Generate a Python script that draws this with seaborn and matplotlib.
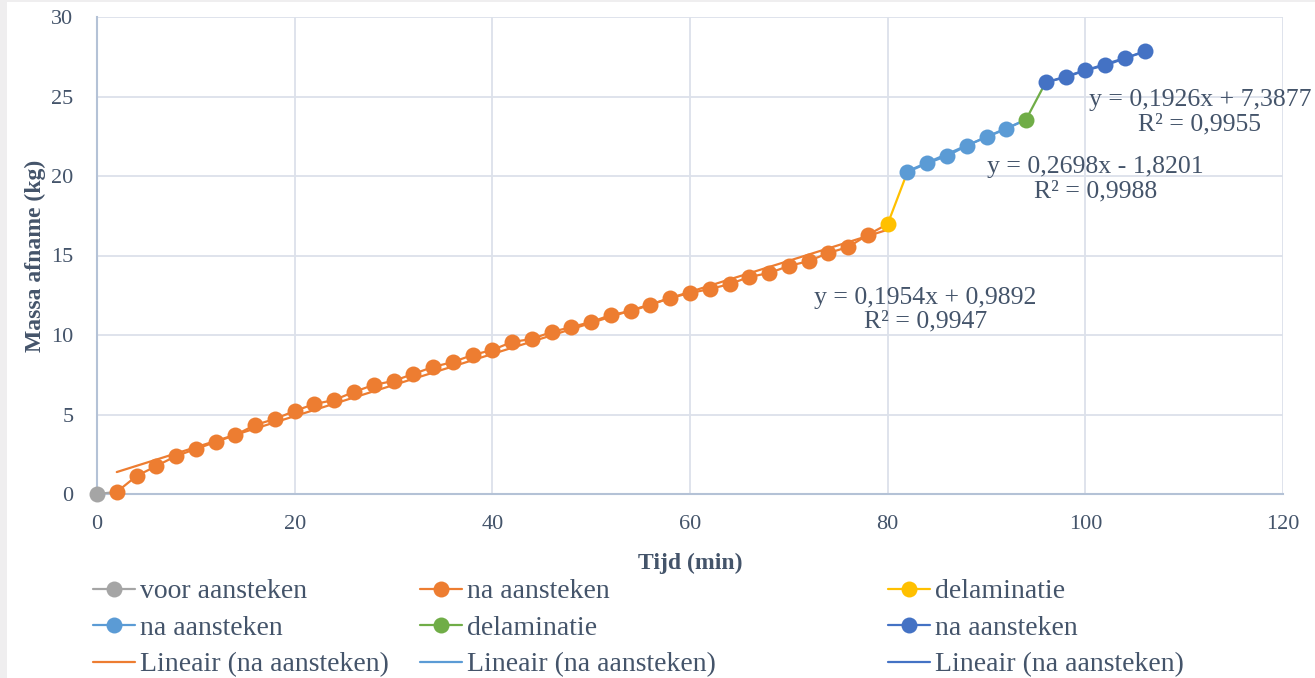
import numpy as np
import pandas as pd
import matplotlib
matplotlib.use('Agg')
import matplotlib.pyplot as plt
from matplotlib.lines import Line2D
from matplotlib.patches import Rectangle
import seaborn as sns

# meetgegevens (tijd in min, massa afname in kg)
t_voor = [0]
m_voor = [0.0]

t_na1 = list(range(2, 80, 2))
m_na1 = [0.13, 1.13, 1.76, 2.39, 2.83, 3.27, 3.71, 4.34, 4.72, 5.22,
         5.66, 5.91, 6.42, 6.86, 7.11, 7.55, 7.99, 8.30, 8.74, 9.06,
         9.56, 9.75, 10.19, 10.50, 10.82, 11.26, 11.51, 11.89, 12.33, 12.64,
         12.89, 13.20, 13.65, 13.90, 14.34, 14.65, 15.16, 15.53, 16.30]

t_del1 = [80]
m_del1 = [16.98]

t_na2 = [82, 84, 86, 88, 90, 92]
m_na2 = [20.25, 20.80, 21.26, 21.90, 22.45, 22.96]

t_del2 = [94]
m_del2 = [23.55]

t_na3 = [96, 98, 100, 102, 104, 106]
m_na3 = [25.90, 26.20, 26.65, 26.95, 27.40, 27.85]

# trendlijnen (helling, snijpunt, R²)
trend1 = [0.1954, 0.9892, 0.9947]
trend2 = [0.2698, -1.8201, 0.9988]
trend3 = [0.1926, 7.3877, 0.9955]

c_grey = '#A5A5A5'
c_orange = '#ED7D31'
c_yellow = '#FFC000'
c_lblue = '#5B9BD5'
c_green = '#70AD47'
c_dblue = '#4472C4'
txt = '#44546A'

sns.set_theme(style='white')
plt.rcParams['font.family'] = ['Liberation Serif', 'DejaVu Serif']

fig = plt.figure(figsize=(13.15, 6.78), dpi=100)
fig.patch.set_facecolor('#EFEEEF')
fig.add_artist(Rectangle((7 / 1315, 0), 1, 1 - 2 / 678, transform=fig.transFigure,
                         facecolor='white', edgecolor='none', zorder=-10))
ax = fig.add_axes([97 / 1315, 1 - 494 / 678, (1283 - 97) / 1315, (494 - 17) / 678])
ax.set_facecolor('white')

# series: eigen punten + lijn naar het eerste punt van de volgende serie
series = [
    (t_voor, m_voor, c_grey, t_na1, m_na1),
    (t_na1, m_na1, c_orange, t_del1, m_del1),
    (t_del1, m_del1, c_yellow, t_na2, m_na2),
    (t_na2, m_na2, c_lblue, t_del2, m_del2),
    (t_del2, m_del2, c_green, t_na3, m_na3),
    (t_na3, m_na3, c_dblue, None, None),
]
for i, (tx, my, col, tn, mn) in enumerate(series):
    lx = list(tx) + ([tn[0]] if tn is not None else [])
    ly = list(my) + ([mn[0]] if mn is not None else [])
    if len(lx) > 1:
        sns.lineplot(x=lx, y=ly, color=col, lw=1.6, ax=ax, sort=False,
                     estimator=None, zorder=3 + i)
    ax.plot(tx, my, linestyle='none', marker='o', markersize=11.5,
            color=col, markeredgewidth=0, zorder=10 + i, clip_on=False)

# lineaire trendlijnen
trends = [(trend1, t_na1 + t_del1, c_orange),
          (trend2, t_na2 + t_del2, c_lblue),
          (trend3, t_na3, c_dblue)]
for (a, b, r2), tx, col in trends:
    xs = np.array([min(tx), max(tx)])
    sns.lineplot(x=xs, y=a * xs + b, color=col, lw=1.6, ax=ax, zorder=2)

def fmt(v):
    return f'{abs(v):.4f}'.replace('.', ',')

label_pos = [(83.8, 11.6), (101.0, 19.8), (111.6, 24.0)]
for ((a, b, r2), _, _), (px, py) in zip(trends, label_pos):
    sign = '+' if b >= 0 else '-'
    ax.text(px, py, f'y = {fmt(a)}x {sign} {fmt(b)}\nR² = {fmt(r2)}',
            ha='center', va='center', multialignment='center',
            fontsize=18.5, color=txt, linespacing=1.12, zorder=20)

ax.set_xlim(0, 120)
ax.set_ylim(0, 30)
ax.set_xticks(range(0, 121, 20))
ax.set_yticks(range(0, 31, 5))
ax.grid(True, color='#DCE1EA', lw=1.3)
ax.set_axisbelow(True)
for s in ['top', 'right']:
    ax.spines[s].set_visible(False)
for s in ['left', 'bottom']:
    ax.spines[s].set_color('#B4C2D6')
    ax.spines[s].set_linewidth(1.5)
ax.tick_params(axis='both', length=0, labelsize=16, labelcolor=txt)
ax.tick_params(axis='y', pad=17)
ax.tick_params(axis='x', pad=15)
ax.set_xlabel('Tijd (min)', fontsize=17, fontweight='bold', color=txt, labelpad=14)
ax.set_ylabel('Massa afname (kg)', fontsize=17, fontweight='bold', color=txt, labelpad=4)

# legenda in drie kolommen
def mk(col):
    return Line2D([0], [0], color=col, lw=1.6, marker='o', markersize=11.5, markeredgewidth=0)

def ln(col):
    return Line2D([0], [0], color=col, lw=1.6)

cols = [
    ([mk(c_grey), mk(c_lblue), ln(c_orange)],
     ['voor aansteken', 'na aansteken', 'Lineair (na aansteken)'], 93),
    ([mk(c_orange), mk(c_green), ln(c_lblue)],
     ['na aansteken', 'delaminatie', 'Lineair (na aansteken)'], 420),
    ([mk(c_yellow), mk(c_dblue), ln(c_dblue)],
     ['delaminatie', 'na aansteken', 'Lineair (na aansteken)'], 888),
]
for handles, labels, px in cols:
    leg = fig.legend(handles, labels, loc='upper left',
                     bbox_to_anchor=(px / 1315, 1 - 579 / 678),
                     frameon=False, fontsize=20, handlelength=1.5,
                     handletextpad=0.2, labelspacing=0.4, borderaxespad=0,
                     borderpad=0)
    for t in leg.get_texts():
        t.set_color(txt)

fig.savefig('out.png', dpi=100, facecolor=fig.get_facecolor())
